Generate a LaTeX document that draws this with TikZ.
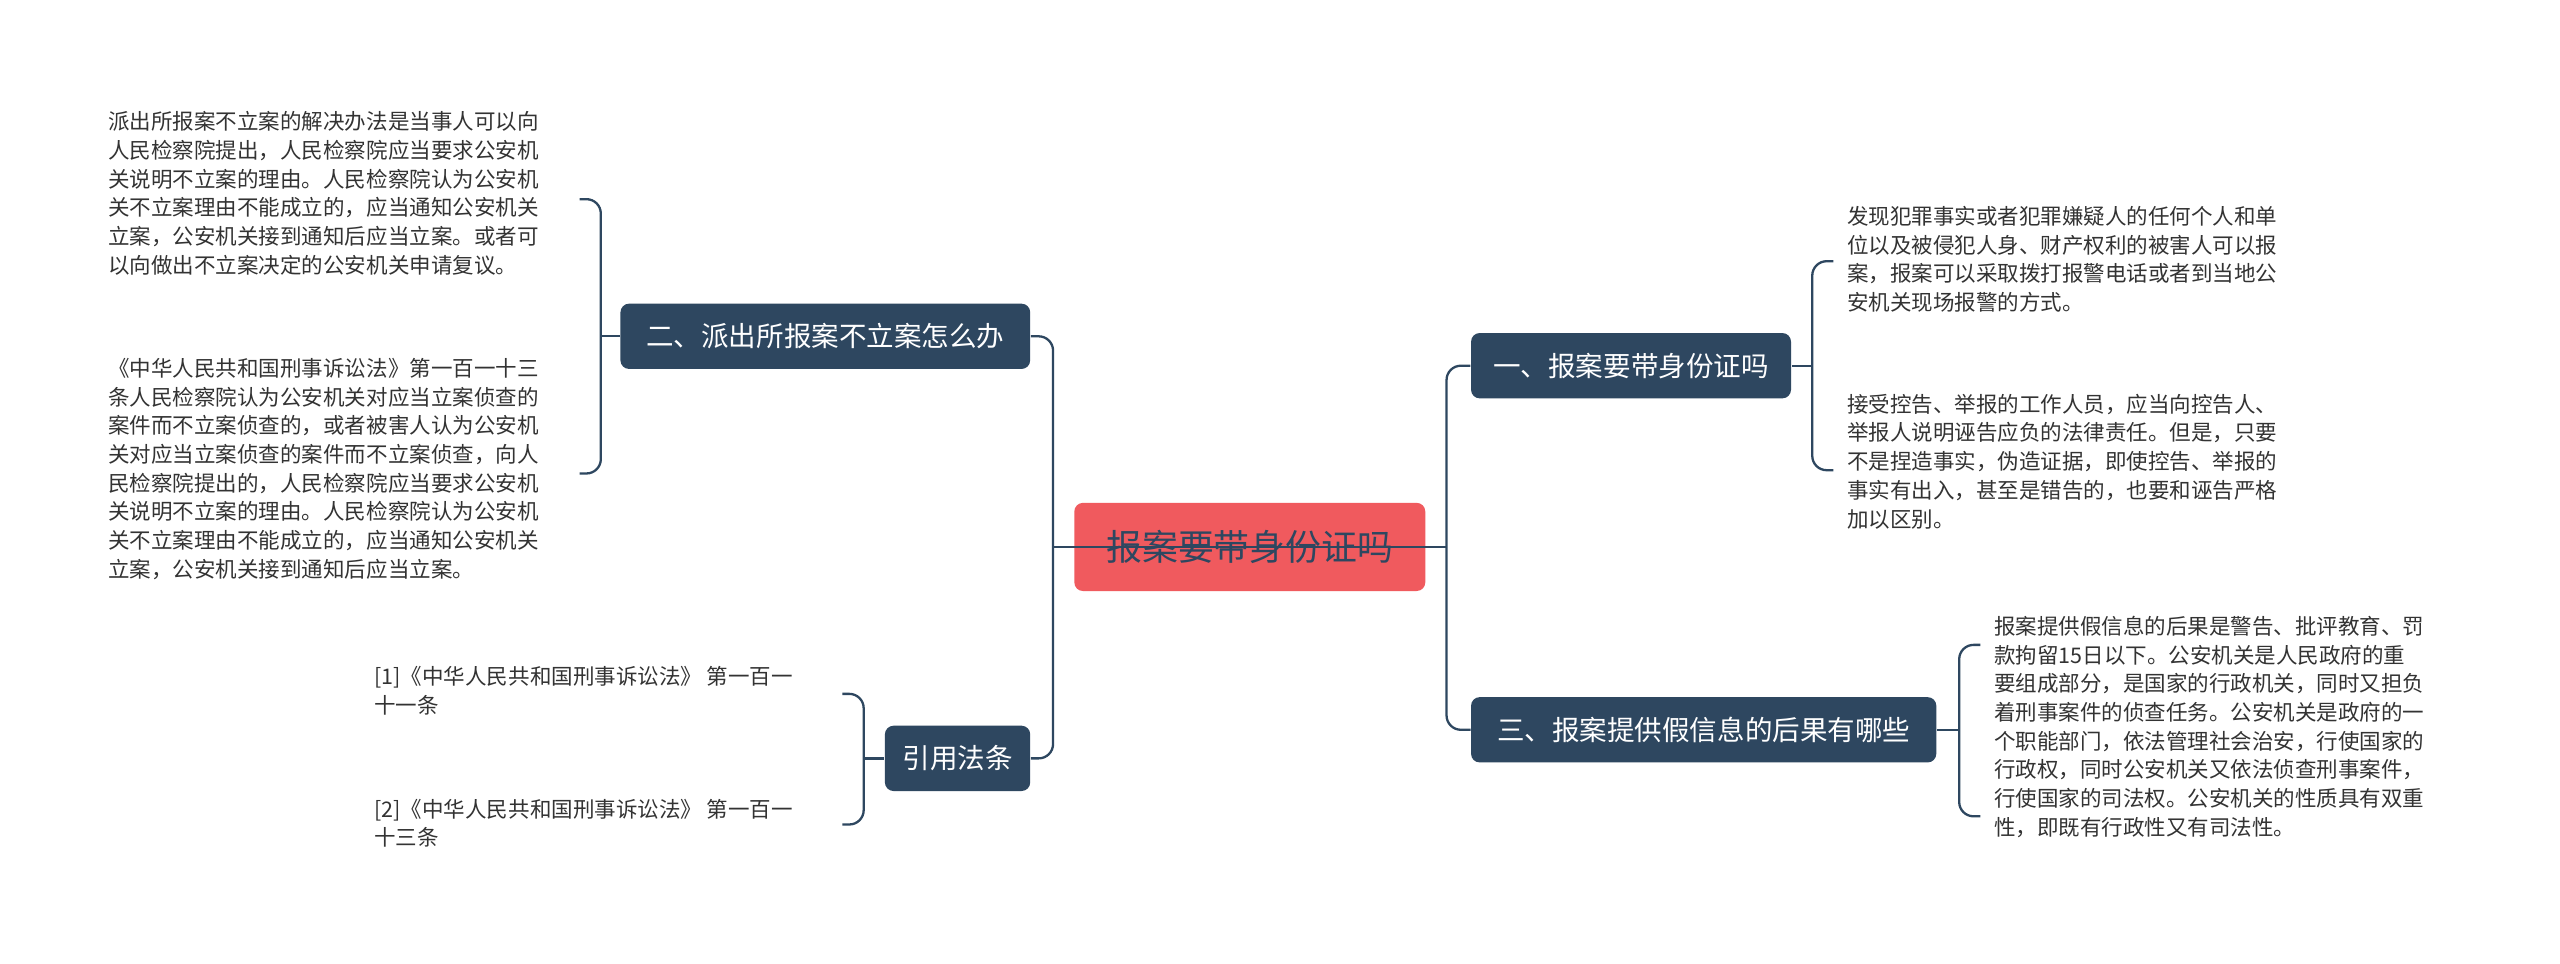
\documentclass[tikz,border=0pt]{standalone}
\usepackage{fontspec}
\setmainfont{Noto Sans CJK SC}
\usetikzlibrary{positioning}
\definecolor{navy}{HTML}{2E4760}
\definecolor{rose}{HTML}{F05A5E}
\definecolor{ink}{HTML}{333333}
\tikzset{
  topic/.style={fill=navy,text=white,rounded corners=3pt,font=\fontsize{9.6}{12}\selectfont,inner sep=0pt,minimum height=0.8cm},
  note/.style={anchor=north west,align=left,text=ink,font=\fontsize{7.5}{10}\selectfont,inner sep=0pt},
  link/.style={draw=navy,line width=0.8pt,rounded corners=5pt}
}
\begin{document}
\begin{tikzpicture}[x=0.02cm,y=-0.02cm]
\useasboundingbox[fill=white] (0,0) rectangle (1568,590);
% main
\node[fill=rose,text=navy,rounded corners=3pt,minimum width=4.3cm,minimum height=1.08cm,font=\fontsize{12.5}{14}\selectfont] (root) at (765.5,335) {报案要带身份证吗};
\node[topic,minimum width=5.02cm] (two) at (505.5,206) {二、派出所报案不立案怎么办};
\node[topic,minimum width=1.78cm] (cite) at (586.5,464.5) {引用法条};
\node[topic,minimum width=3.92cm] (one) at (999,224) {一、报案要带身份证吗};
\node[topic,minimum width=5.7cm] (three) at (1043.5,447) {三、报案提供假信息的后果有哪些};
% trunks
\draw[link] (two.east) -| (645,335) |- (cite.east);
\draw[link] (one.west) -| (886,335) |- (three.west);
\draw[navy,line width=0.8pt] (645,335) -- (886,335);
% notes
\node[note] (n1) at (66,68) {派出所报案不立案的解决办法是当事人可以向\\人民检察院提出，人民检察院应当要求公安机\\关说明不立案的理由。人民检察院认为公安机\\关不立案理由不能成立的，应当通知公安机关\\立案，公安机关接到通知后应当立案。或者可\\以向做出不立案决定的公安机关申请复议。};
\node[note] (n2) at (66,219) {《中华人民共和国刑事诉讼法》第一百一十三\\条人民检察院认为公安机关对应当立案侦查的\\案件而不立案侦查的，或者被害人认为公安机\\关对应当立案侦查的案件而不立案侦查，向人\\民检察院提出的，人民检察院应当要求公安机\\关说明不立案的理由。人民检察院认为公安机\\关不立案理由不能成立的，应当通知公安机关\\立案，公安机关接到通知后应当立案。};
\node[note] (c1) at (229,408) {[1]《中华人民共和国刑事诉讼法》 第一百一\\十一条};
\node[note] (c2) at (229,489) {[2]《中华人民共和国刑事诉讼法》 第一百一\\十三条};
\node[note] (r1) at (1131,126) {发现犯罪事实或者犯罪嫌疑人的任何个人和单\\位以及被侵犯人身、财产权利的被害人可以报\\案，报案可以采取拨打报警电话或者到当地公\\安机关现场报警的方式。};
\node[note] (r2) at (1131,241) {接受控告、举报的工作人员，应当向控告人、\\举报人说明诬告应负的法律责任。但是，只要\\不是捏造事实，伪造证据，即使控告、举报的\\事实有出入，甚至是错告的，也要和诬告严格\\加以区别。};
\node[note] (r3) at (1221,377) {报案提供假信息的后果是警告、批评教育、罚\\款拘留15日以下。公安机关是人民政府的重\\要组成部分，是国家的行政机关，同时又担负\\着刑事案件的侦查任务。公安机关是政府的一\\个职能部门，依法管理社会治安，行使国家的\\行政权，同时公安机关又依法侦查刑事案件，\\行使国家的司法权。公安机关的性质具有双重\\性，即既有行政性又有司法性。};
% brackets
\draw[link] (355,122) -| (368,206) |- (355,290);
\draw[link] (368,206) -- (two.west);
\draw[link] (516,425) -| (529,464.5) |- (516,505);
\draw[link] (529,464.5) -- (cite.west);
\draw[link] (1123,160) -| (1110,224) |- (1123,288);
\draw[link] (1110,224) -- (one.east);
\draw[link] (1213,395) -| (1200,447) |- (1213,500);
\draw[link] (1200,447) -- (three.east);
\end{tikzpicture}
\end{document}
